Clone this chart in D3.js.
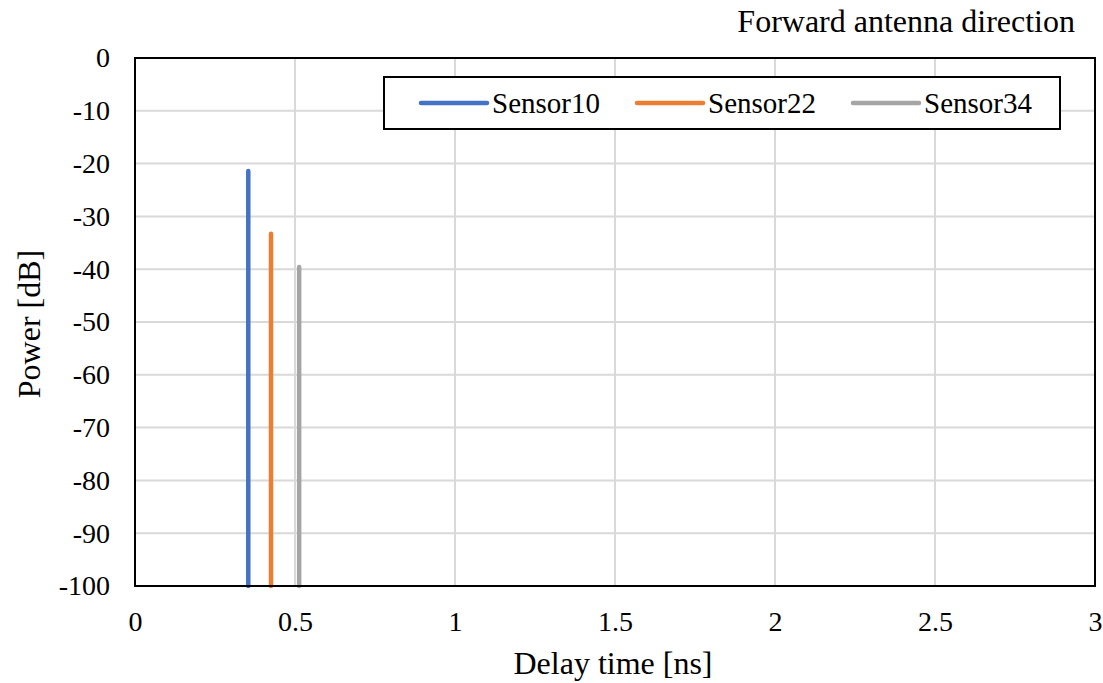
<!DOCTYPE html>
<html>
<head>
<meta charset="utf-8">
<script src="https://cdn.jsdelivr.net/npm/d3@7"></script>
<style>
  body { margin: 0; background: #fff; }
</style>
</head>
<body>
<div id="chart"></div>
<script>
// series data (impulse lines: floor -> peak)
const seriesNames = ["Sensor10", "Sensor22", "Sensor34"];
const seriesColors = ["#4472c4", "#ed7d31", "#a5a5a5"];
const sensor10Delay = [0.354, 0.354];
const sensor10Power = [-100, -21.4];
const sensor22Delay = [0.425, 0.425];
const sensor22Power = [-100, -33.3];
const sensor34Delay = [0.513, 0.513];
const sensor34Power = [-100, -39.6];
const xTicks = [0, 0.5, 1, 1.5, 2, 2.5, 3];
const yTicks = [0, -10, -20, -30, -40, -50, -60, -70, -80, -90, -100];

const serif = "Liberation Serif";
const svgWidth = 1103, svgHeight = 683;
const margin = { top: 58, right: 8, bottom: 97, left: 135 };
const width = svgWidth - margin.left - margin.right;
const height = svgHeight - margin.top - margin.bottom;

const svg = d3.select("#chart").append("svg")
  .attr("width", svgWidth)
  .attr("height", svgHeight);

const g = svg.append("g")
  .attr("transform", `translate(${margin.left},${margin.top})`);

const x = d3.scaleLinear().domain([0, 3]).range([0, width]);
const y = d3.scaleLinear().domain([-100, 0]).range([height, 0]);

// gridlines
g.append("g").selectAll("line").data(xTicks).enter().append("line")
  .attr("x1", d => x(d)).attr("x2", d => x(d))
  .attr("y1", 0).attr("y2", height)
  .attr("stroke", "#d9d9d9").attr("stroke-width", 2);
g.append("g").selectAll("line").data(yTicks).enter().append("line")
  .attr("x1", 0).attr("x2", width)
  .attr("y1", d => y(d)).attr("y2", d => y(d))
  .attr("stroke", "#d9d9d9").attr("stroke-width", 2);

// axes (labels only)
const xAxis = g.append("g")
  .attr("transform", `translate(0,${height})`)
  .call(d3.axisBottom(x).tickValues(xTicks).tickSize(0).tickPadding(25).tickFormat(d => String(d)));
const yAxis = g.append("g")
  .call(d3.axisLeft(y).tickValues(yTicks).tickSize(0).tickPadding(25).tickFormat(d => String(d)));
[xAxis, yAxis].forEach(a => {
  a.attr("font-family", null).attr("font-size", null);
  a.select(".domain").remove();
  a.selectAll("text")
    .attr("fill", "#000")
    .style("font-family", serif)
    .style("font-size", "28px");
});

// series
const series = [
  { name: seriesNames[0], color: seriesColors[0], xs: sensor10Delay, ys: sensor10Power },
  { name: seriesNames[1], color: seriesColors[1], xs: sensor22Delay, ys: sensor22Power },
  { name: seriesNames[2], color: seriesColors[2], xs: sensor34Delay, ys: sensor34Power }
];
const line = d3.line().x(d => x(d[0])).y(d => y(d[1]));
series.forEach(s => {
  g.append("path")
    .datum(s.xs.map((v, i) => [v, s.ys[i]]))
    .attr("d", line)
    .attr("fill", "none")
    .attr("stroke", s.color)
    .attr("stroke-width", 4.5)
    .attr("stroke-linecap", "round");
});

// plot frame
g.append("rect")
  .attr("width", width).attr("height", height)
  .attr("fill", "none").attr("stroke", "#000").attr("stroke-width", 2);

// legend
const legend = svg.append("g").attr("transform", "translate(384,77)");
legend.append("rect").attr("width", 676).attr("height", 52)
  .attr("fill", "#fff").attr("stroke", "#000").attr("stroke-width", 2);
const legendX = [37, 253, 469];
series.forEach((s, i) => {
  legend.append("line")
    .attr("x1", legendX[i]).attr("x2", legendX[i] + 66)
    .attr("y1", 26).attr("y2", 26)
    .attr("stroke", s.color).attr("stroke-width", 4.5).attr("stroke-linecap", "round");
  legend.append("text")
    .attr("x", legendX[i] + 71).attr("y", 36)
    .style("font-family", serif)
    .style("font-size", "29px")
    .text(s.name);
});

// title
svg.append("text")
  .attr("x", 1075).attr("y", 32)
  .attr("text-anchor", "end")
  .style("font-family", serif)
  .style("font-size", "32px")
  .text("Forward antenna direction");

// axis titles
svg.append("text")
  .attr("x", 613).attr("y", 674)
  .attr("text-anchor", "middle")
  .style("font-family", serif)
  .style("font-size", "32px")
  .text("Delay time [ns]");
svg.append("text")
  .attr("transform", "translate(40,324) rotate(-90)")
  .attr("text-anchor", "middle")
  .style("font-family", serif)
  .style("font-size", "32px")
  .text("Power [dB]");
</script>
</body>
</html>
